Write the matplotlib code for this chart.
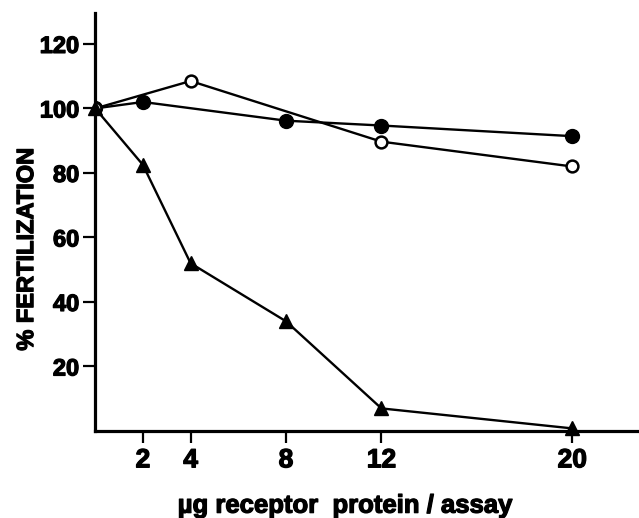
import matplotlib
matplotlib.use("Agg")
import matplotlib.pyplot as plt
import matplotlib.patheffects as pe

# ug receptor protein per assay
dose_filled = [0, 2, 8, 12, 20]
fert_filled = [100, 102, 96.2, 94.7, 91.4]

dose_open = [0, 4, 12, 20]
fert_open = [100, 108.5, 89.7, 82]

dose_tri = [0, 2, 4, 8, 12, 20]
fert_tri = [100, 82.5, 52, 34, 7, 0.8]

xticks = [2, 4, 8, 12, 20]
yticks = [20, 40, 60, 80, 100, 120]

plt.rcParams['font.family'] = ['Liberation Sans', 'DejaVu Sans']
plt.rcParams['font.weight'] = 'bold'

heavy = [pe.withStroke(linewidth=0.9, foreground='black')]

fig = plt.figure(figsize=(6.39, 5.18), dpi=100)
ax = fig.add_axes([0.149, 0.168, 0.851, 0.807])

ax.plot(dose_filled, fert_filled, color='black', lw=1.7, marker='o',
        ms=10, mfc='black', mec='black', zorder=3)
ax.plot(dose_open, fert_open, color='black', lw=1.7, marker='o',
        ms=8.5, mfc='white', mec='black', mew=1.8, zorder=3)
ax.plot(dose_tri, fert_tri, color='black', lw=1.7, marker='^',
        ms=10.5, mfc='black', mec='black', zorder=3, clip_on=False)

ax.set_xlim(0, 22.8)
ax.set_ylim(0, 129.6)
ax.set_xticks(xticks)
ax.set_yticks(yticks)
ax.tick_params(direction='out', length=8.5, width=1.6)
ax.tick_params(axis='y', labelsize=17, pad=3)
ax.tick_params(axis='x', labelsize=19, pad=4)
for lab in ax.get_xticklabels() + ax.get_yticklabels():
    lab.set_path_effects(heavy)

for s in ['top', 'right']:
    ax.spines[s].set_visible(False)
for s in ['left', 'bottom']:
    ax.spines[s].set_linewidth(2.3)

ax.set_ylabel('% FERTILIZATION', fontsize=17, fontweight='bold',
              path_effects=heavy)
ax.yaxis.set_label_coords(-0.105, 0.435)
ax.set_xlabel('\u00b5g receptor  protein / assay', fontsize=18.5, fontweight='bold',
              path_effects=heavy)
ax.xaxis.set_label_coords(0.46, -0.15)

fig.savefig('out.png', dpi=100)
